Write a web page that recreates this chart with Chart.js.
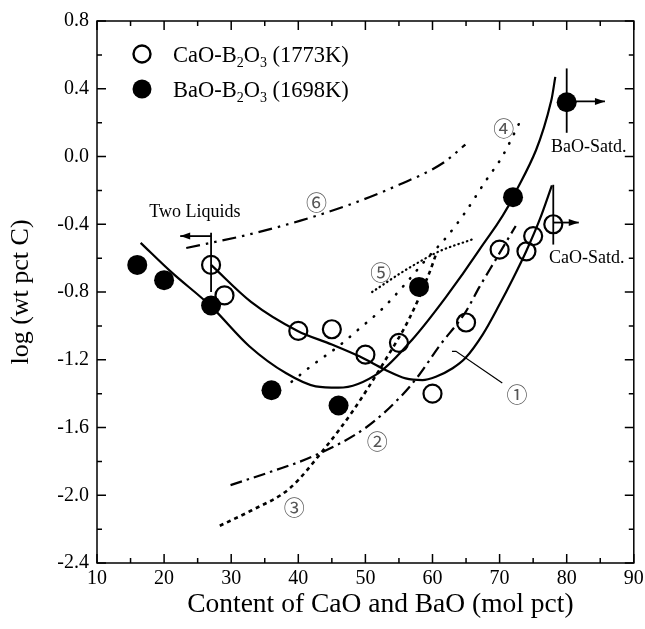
<!DOCTYPE html>
<html>
<head>
<meta charset="utf-8">
<script src="https://cdn.jsdelivr.net/npm/chart.js@4.4.1/dist/chart.umd.min.js"></script>
<style>
  html, body { margin: 0; padding: 0; background: #fff; }
  #wrap { width: 645px; height: 629px; }
</style>
</head>
<body>
<div id="wrap"><canvas id="chart" width="645" height="629"></canvas></div>
<script>
// measured points
const caoX = [27, 29, 40, 45, 50, 55, 60, 65, 70, 74, 75, 78];
const caoY = [-0.64, -0.82, -1.03, -1.02, -1.17, -1.10, -1.40, -0.98, -0.55, -0.56, -0.47, -0.40];
const baoX = [16, 20, 27, 36, 46, 58, 72, 80];
const baoY = [-0.64, -0.73, -0.88, -1.38, -1.47, -0.77, -0.24, 0.32];

// fitted curves (solid)
const baoFitX = [16.5, 21, 27, 32.7, 38.2, 42.6, 46, 52, 57, 62, 67, 72, 77.7, 78.3];
const baoFitY = [-0.51, -0.68, -0.885, -1.12, -1.28, -1.357, -1.365, -1.277, -1.08, -0.83, -0.55, -0.24, 0.33, 0.47];
const caoFitX = [27, 33, 39.9, 45, 49.1, 53, 56, 58.5, 60.5, 63, 64.9, 67.5, 69.9, 72, 74, 76, 77.8];
const caoFitY = [-0.64, -0.86, -1.03, -1.11, -1.18, -1.26, -1.31, -1.32, -1.30, -1.25, -1.19, -1.05, -0.88, -0.72, -0.556, -0.37, -0.17];

// other model curves 2..6
const curve2X = [29.9, 36, 42.2, 50.1, 55.2, 58, 61, 64.9, 67, 69.4, 72.4];
const curve2Y = [-1.94, -1.86, -1.77, -1.60, -1.42, -1.29, -1.12, -0.92, -0.77, -0.61, -0.41];
const curve3X = [28.3, 33, 38.7, 44, 48, 50.5, 53, 56.5, 59.5, 60.5];
const curve3Y = [-2.18, -2.09, -1.96, -1.72, -1.51, -1.36, -1.20, -0.96, -0.69, -0.58];
const curve4X = [39, 42, 46, 49, 52.5, 56, 59, 62, 64.7, 68, 70.4, 73.1];
const curve4Y = [-1.33, -1.235, -1.12, -1.02, -0.90, -0.75, -0.61, -0.48, -0.34, -0.14, 0.0, 0.21];
const curve5X = [51, 56, 61, 65.9];
const curve5Y = [-0.80, -0.67, -0.56, -0.49];
const curve6X = [23.3, 32.7, 40.2, 47.6, 55, 61.5, 64.9];
const curve6Y = [-0.54, -0.46, -0.38, -0.285, -0.167, -0.04, 0.07];

// axes
const xTicks = [10, 20, 30, 40, 50, 60, 70, 80, 90];
const yTicks = [-2.4, -2.0, -1.6, -1.2, -0.8, -0.4, 0.0, 0.4, 0.8];
const xTitle = 'Content of CaO and BaO (mol pct)';
const yTitle = 'log (wt pct C)';

// circled curve numbers, in data units
const markLabels = ['①', '②', '③', '④', '⑤', '⑥'];
const markX = [72.6, 51.75, 39.4, 70.6, 52.3, 42.7];
const markY = [-1.40, -1.68, -2.07, 0.17, -0.68, -0.27];

const pts = (xs, ys) => xs.map((v, i) => ({ x: v, y: ys[i] }));

Chart.defaults.font.family = "'Liberation Serif', 'Times New Roman', serif";
Chart.defaults.color = '#000';

function lineSet(xs, ys, dash, width, cap) {
    return {
        type: 'line',
        data: pts(xs, ys),
        borderColor: '#000',
        borderWidth: width || 2,
        borderDash: dash || [],
        borderCapStyle: cap || 'butt',
        pointRadius: 0,
        fill: false,
        cubicInterpolationMode: 'monotone'
    };
}

function arrow(ctx, x1, y1, x2, y2) {
    ctx.beginPath();
    ctx.moveTo(x1, y1);
    ctx.lineTo(x2, y2);
    ctx.stroke();
    const ang = Math.atan2(y2 - y1, x2 - x1);
    ctx.beginPath();
    ctx.moveTo(x2, y2);
    ctx.lineTo(x2 - 10 * Math.cos(ang) + 3.5 * Math.sin(ang), y2 - 10 * Math.sin(ang) - 3.5 * Math.cos(ang));
    ctx.lineTo(x2 - 10 * Math.cos(ang) - 3.5 * Math.sin(ang), y2 - 10 * Math.sin(ang) + 3.5 * Math.cos(ang));
    ctx.closePath();
    ctx.fill();
}

// frame, inward ticks, notes and legend
const inkPlugin = {
    id: 'ink',
    afterDraw(chart) {
        const { ctx, chartArea: a, scales: { x, y } } = chart;
        ctx.save();
        ctx.strokeStyle = '#000';
        ctx.fillStyle = '#000';
        ctx.lineWidth = 1.5;
        ctx.strokeRect(a.left, a.top, a.right - a.left, a.bottom - a.top);

        ctx.beginPath();
        for (let v = 10; v <= 90; v += 5) {
            const px = x.getPixelForValue(v);
            const len = v % 10 === 0 ? 9 : 5;
            ctx.moveTo(px, a.bottom); ctx.lineTo(px, a.bottom - len);
            ctx.moveTo(px, a.top); ctx.lineTo(px, a.top + len);
        }
        for (let k = 0; k <= 16; k++) {
            const v = -2.4 + k * 0.2;
            const py = y.getPixelForValue(v);
            const len = k % 2 === 0 ? 9 : 5;
            ctx.moveTo(a.left, py); ctx.lineTo(a.left + len, py);
            ctx.moveTo(a.right, py); ctx.lineTo(a.right - len, py);
        }
        ctx.stroke();

        // x axis title, sits a little right of the plot centre in the original
        ctx.font = "27.5px 'Liberation Serif'";
        ctx.textAlign = 'center';
        ctx.textBaseline = 'middle';
        ctx.fillText(xTitle, (a.left + a.right) / 2 + 15, 605);

        // two liquids boundary
        ctx.lineWidth = 1.8;
        ctx.beginPath();
        ctx.moveTo(x.getPixelForValue(27), y.getPixelForValue(-0.45));
        ctx.lineTo(x.getPixelForValue(27), y.getPixelForValue(-0.80));
        ctx.stroke();
        arrow(ctx, x.getPixelForValue(27), y.getPixelForValue(-0.47), x.getPixelForValue(22.4), y.getPixelForValue(-0.47));

        // BaO saturation
        ctx.beginPath();
        ctx.moveTo(x.getPixelForValue(80), y.getPixelForValue(0.52));
        ctx.lineTo(x.getPixelForValue(80), y.getPixelForValue(0.14));
        ctx.stroke();
        arrow(ctx, x.getPixelForValue(80), y.getPixelForValue(0.325), x.getPixelForValue(85.7), y.getPixelForValue(0.325));

        // CaO saturation
        ctx.beginPath();
        ctx.moveTo(x.getPixelForValue(78), y.getPixelForValue(-0.167));
        ctx.lineTo(x.getPixelForValue(78), y.getPixelForValue(-0.52));
        ctx.stroke();
        arrow(ctx, x.getPixelForValue(78), y.getPixelForValue(-0.39), x.getPixelForValue(81.8), y.getPixelForValue(-0.39));

        // leader for curve 1
        ctx.lineWidth = 1.2;
        ctx.beginPath();
        ctx.moveTo(x.getPixelForValue(62.9), y.getPixelForValue(-1.15));
        ctx.lineTo(x.getPixelForValue(63.5), y.getPixelForValue(-1.15));
        ctx.lineTo(x.getPixelForValue(70.4), y.getPixelForValue(-1.337));
        ctx.stroke();

        ctx.font = "18px 'Liberation Serif'";
        ctx.fillText('Two Liquids', x.getPixelForValue(24.6), y.getPixelForValue(-0.33));
        ctx.fillText('BaO-Satd.', x.getPixelForValue(83.3), y.getPixelForValue(0.057));
        ctx.fillText('CaO-Satd.', x.getPixelForValue(83.0), y.getPixelForValue(-0.60));

        ctx.font = "21px 'Noto Sans CJK JP'";
        ctx.fillStyle = '#555';
        markLabels.forEach((t, i) => {
            ctx.fillText(t, x.getPixelForValue(markX[i]), y.getPixelForValue(markY[i]));
        });

        // legend
        ctx.fillStyle = '#000';
        ctx.lineWidth = 2.4;
        ctx.beginPath();
        ctx.arc(142, 54, 8.5, 0, Math.PI * 2);
        ctx.stroke();
        ctx.beginPath();
        ctx.arc(142, 89, 9.5, 0, Math.PI * 2);
        ctx.fill();
        ctx.textAlign = 'left';
        ctx.textBaseline = 'alphabetic';
        const entry = (name, temp, ty) => {
            let cx = 173;
            const big = "22.5px 'Liberation Serif'", small = "14px 'Liberation Serif'";
            const parts = [[name + '-B', big, 0], ['2', small, 5], ['O', big, 0], ['3', small, 5], [' (' + temp + ')', big, 0]];
            parts.forEach(([t, f, dy]) => {
                ctx.font = f;
                ctx.fillText(t, cx, ty + dy);
                cx += ctx.measureText(t).width;
            });
        };
        entry('CaO', '1773K', 62);
        entry('BaO', '1698K', 97);
        ctx.restore();
    }
};

new Chart(document.getElementById('chart'), {
    type: 'scatter',
    data: {
        datasets: [
            {
                label: 'CaO-B2O3 (1773K)',
                data: pts(caoX, caoY),
                pointRadius: 9,
                pointBorderWidth: 2.2,
                pointBorderColor: '#000',
                pointBackgroundColor: 'rgba(0,0,0,0)'
            },
            {
                label: 'BaO-B2O3 (1698K)',
                data: pts(baoX, baoY),
                pointRadius: 10,
                pointBorderWidth: 0,
                pointBackgroundColor: '#000'
            },
            lineSet(baoFitX, baoFitY, [], 2.2),
            lineSet(caoFitX, caoFitY, [], 2.2),
            lineSet(curve2X, curve2Y, [12, 5, 2.5, 5], 2.2),
            lineSet(curve3X, curve3Y, [4, 4], 2.6),
            lineSet(curve4X, curve4Y, [0.5, 10], 2.6, 'round'),
            lineSet(curve5X, curve5Y, [0.5, 4], 2.2, 'round'),
            lineSet(curve6X, curve6Y, [14, 6, 2.5, 6, 2.5, 6], 2.2)
        ]
    },
    options: {
        responsive: false,
        animation: false,
        layout: { padding: { top: 21, right: 9, left: 0, bottom: 0 } },
        plugins: { legend: { display: false }, tooltip: { enabled: false } },
        scales: {
            x: {
                type: 'linear',
                min: 10, max: 90,
                afterFit: s => { s.height = 66; s.paddingLeft = 0; s.paddingRight = 0; },
                afterBuildTicks: s => { s.ticks = xTicks.map(v => ({ value: v })); },
                grid: { display: false, drawTicks: false },
                border: { display: false },
                ticks: { font: { size: 20 }, padding: 4, maxRotation: 0 },
                title: { display: false, text: xTitle }
            },
            y: {
                type: 'linear',
                min: -2.4, max: 0.8,
                afterFit: s => { s.width = 97; },
                afterBuildTicks: s => { s.ticks = yTicks.map(v => ({ value: v })); },
                grid: { display: false, drawTicks: false },
                border: { display: false },
                ticks: { font: { size: 20 }, padding: 8, callback: v => v.toFixed(1) },
                title: { display: true, text: yTitle, font: { size: 26 }, padding: { top: 6 } }
            }
        }
    },
    plugins: [inkPlugin]
});
</script>
</body>
</html>
